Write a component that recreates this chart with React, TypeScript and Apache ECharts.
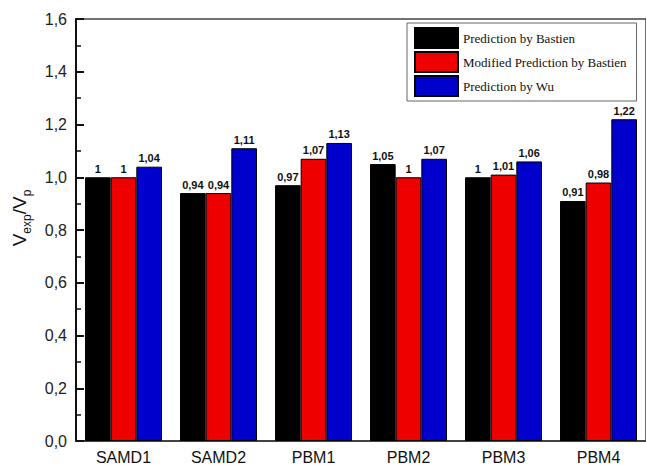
import React, { useEffect, useRef } from "react";
import * as echarts from "echarts";

const categories = ["SAMD1", "SAMD2", "PBM1", "PBM2", "PBM3", "PBM4"];
const seriesNames = ["Prediction by Bastien", "Modified Prediction by Bastien", "Prediction by Wu"];
const bastien = [1, 0.94, 0.97, 1.05, 1, 0.91];
const modifiedBastien = [1, 0.94, 1.07, 1, 1.01, 0.98];
const wu = [1.04, 1.11, 1.13, 1.07, 1.06, 1.22];
const colors = ["#000000", "#ee0000", "#0000cc"];

const comma = (v: number, d?: number) =>
  (d === undefined ? String(v) : v.toFixed(d)).replace(".", ",");

export default function App() {
  const ref = useRef<HTMLDivElement>(null);
  useEffect(() => {
    if (!ref.current) return;
    const chart = echarts.init(ref.current, null, { renderer: "svg" });
    const values = [bastien, modifiedBastien, wu];
    chart.setOption({
      animation: false,
      backgroundColor: "#ffffff",
      grid: {
        left: 76,
        top: 19,
        right: 0,
        bottom: 24,
        show: true,
        borderColor: "#444",
        borderWidth: 1.5,
      },
      legend: {
        orient: "vertical",
        left: 407,
        top: 23,
        itemWidth: 43,
        itemHeight: 20,
        itemGap: 2,
        itemTextGap: 4,
        padding: [4, 10, 4, 7],
        borderColor: "#666",
        borderWidth: 1,
        backgroundColor: "#fff",
        icon: "rect",
        textStyle: { fontFamily: "Liberation Serif", fontSize: 13, color: "#111" },
        data: seriesNames,
      },
      xAxis: {
        type: "category",
        data: categories,
        axisLine: { lineStyle: { color: "#333", width: 1.5 } },
        axisTick: { show: false },
        axisLabel: { fontFamily: "Liberation Sans", fontSize: 16, color: "#111", margin: 8 },
      },
      yAxis: {
        type: "value",
        min: 0,
        max: 1.6,
        interval: 0.2,
        axisLine: { show: true, lineStyle: { color: "#111", width: 2 } },
        axisTick: { show: true, inside: true, length: 8, lineStyle: { color: "#111", width: 2 } },
        minorTick: { show: true, splitNumber: 2, length: 5, lineStyle: { color: "#111", width: 1.5 } },
        splitLine: { show: false },
        axisLabel: {
          fontFamily: "Liberation Sans",
          fontSize: 16,
          color: "#222",
          margin: 9,
          formatter: (v: number) => comma(v, 1),
        },
      },
      graphic: [
        {
          type: "text",
          x: 19,
          y: 218,
          rotation: Math.PI / 2,
          style: {
            text: "{v|V}{s|exp}{v|/V}{s|p}",
            align: "center",
            verticalAlign: "middle",
            fill: "#111",
            rich: {
              v: { fontFamily: "Liberation Sans", fontSize: 19, lineHeight: 28 },
              s: { fontFamily: "Liberation Sans", fontSize: 12, lineHeight: 12, verticalAlign: "bottom" },
            },
          },
        },
      ],
      series: seriesNames.map((name, i) => ({
        name,
        type: "bar",
        data: values[i],
        barGap: "0%",
        barCategoryGap: "19%",
        itemStyle: { color: colors[i], borderColor: "#000", borderWidth: 1 },
        label: {
          show: true,
          position: "top",
          distance: 3,
          fontFamily: "Liberation Sans",
          fontWeight: "bold",
          fontSize: 11,
          color: "#111",
          formatter: (p: any) => comma(p.value),
        },
      })),
    });
    return () => chart.dispose();
  }, []);
  return (
    <div
      ref={ref}
      style={{ position: "fixed", left: 0, top: 0, width: 646, height: 465 }}
    />
  );
}
